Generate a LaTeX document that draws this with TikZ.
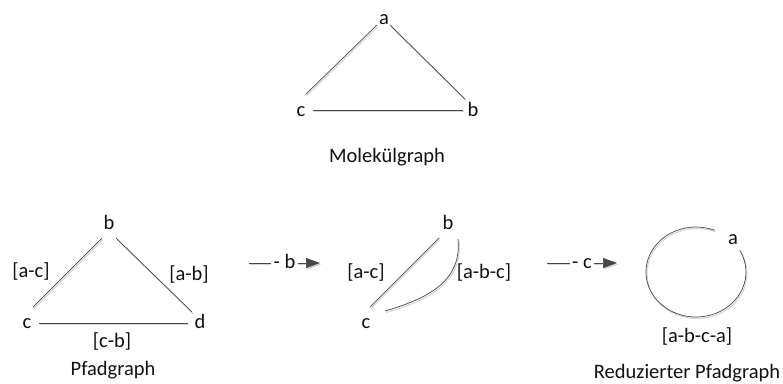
\documentclass[tikz,border=0pt]{standalone}
\usepackage{fontspec}
\setmainfont{Carlito}
\usetikzlibrary{arrows.meta}
\definecolor{lc}{HTML}{464646}
\definecolor{sh}{HTML}{D6D6D6}
\definecolor{tc}{HTML}{111111}
\begin{document}
\begin{tikzpicture}[x=1pt,y=-1pt,
  lbl/.style={anchor=base, inner sep=0pt, text=tc, font=\fontsize{20.5}{24}\selectfont},
  edge/.style={draw=lc, line width=0.7pt,
    preaction={draw=sh, line width=1.1pt, transform canvas={xshift=1pt,yshift=-1.5pt}}},
  arr/.style={edge, -{Triangle[length=14pt,width=10pt]}},
  alab/.style={lbl, fill=white, inner xsep=2.5pt, inner ysep=1pt, yshift=-5.5pt}]
\useasboundingbox (0,0) rectangle (783,383);

% ---------- Molekuelgraph ----------
\node[lbl] (ma) at (384,24) {a};
\node[lbl] (mc) at (301,116) {c};
\node[lbl] (mb) at (473,116) {b};
\node[lbl] (mt) at (387,162) {Molekülgraph};
\coordinate (mca1) at (306,94);  \coordinate (mca2) at (377,25);
\coordinate (mab1) at (390,25);  \coordinate (mab2) at (465,99);
\coordinate (mcb1) at (313,110); \coordinate (mcb2) at (463,110);
\draw[edge] (mca1) -- (mca2);
\draw[edge] (mab1) -- (mab2);
\draw[edge] (mcb1) -- (mcb2);

% ---------- Pfadgraph ----------
\node[lbl] (pb) at (109,229) {b};
\node[lbl] (pc) at (27,328) {c};
\node[lbl] (pd) at (200,328) {d};
\node[lbl] (pac) at (31,277) {[a-c]};
\node[lbl] (pab) at (189,280) {[a-b]};
\node[lbl] (pcb) at (112,347) {[c-b]};
\node[lbl] (pt) at (113,375) {Pfadgraph};
\coordinate (pcb1) at (33,307);  \coordinate (pcb2) at (102,238);
\coordinate (pbd1) at (116,238); \coordinate (pbd2) at (192,312);
\coordinate (pcd1) at (39,323);  \coordinate (pcd2) at (188,323);
\draw[edge] (pcb1) -- (pcb2);
\draw[edge] (pbd1) -- (pbd2);
\draw[edge] (pcd1) -- (pcd2);

% ---------- arrow 1 ----------
\coordinate (a1s) at (249,263); \coordinate (a1e) at (320,263);
\draw[arr] (a1s) -- node[alab] (a1l) {- b} (a1e);

% ---------- middle graph ----------
\node[lbl] (qb) at (448,229) {b};
\node[lbl] (qc) at (366,328) {c};
\node[lbl] (qac) at (366,278) {[a-c]};
\node[lbl] (qabc) at (484,278) {[a-b-c]};
\coordinate (qcb1) at (370,307); \coordinate (qcb2) at (439,238);
\coordinate (qbc1) at (458,239); \coordinate (qbc2) at (385,311);
\draw[edge] (qcb1) -- (qcb2);
\draw[edge] (qbc1) .. controls (462,280) and (430,298) .. (qbc2);

% ---------- arrow 2 ----------
\coordinate (a2s) at (547,263); \coordinate (a2e) at (617,263);
\draw[arr] (a2s) -- node[alab] (a2l) {- c} (a2e);

% ---------- reduzierter Pfadgraph ----------
\node[lbl] (ra) at (733,244) {a};
\node[lbl] (rabca) at (697,342) {[a-b-c-a]};
\node[lbl] (rt) at (687,378) {Reduzierter Pfadgraph};
\coordinate (rs) at (714.7,230.3);
\draw[edge] (rs) arc[start angle=68, end angle=389, x radius=50pt, y radius=45pt];
\end{tikzpicture}
\end{document}
